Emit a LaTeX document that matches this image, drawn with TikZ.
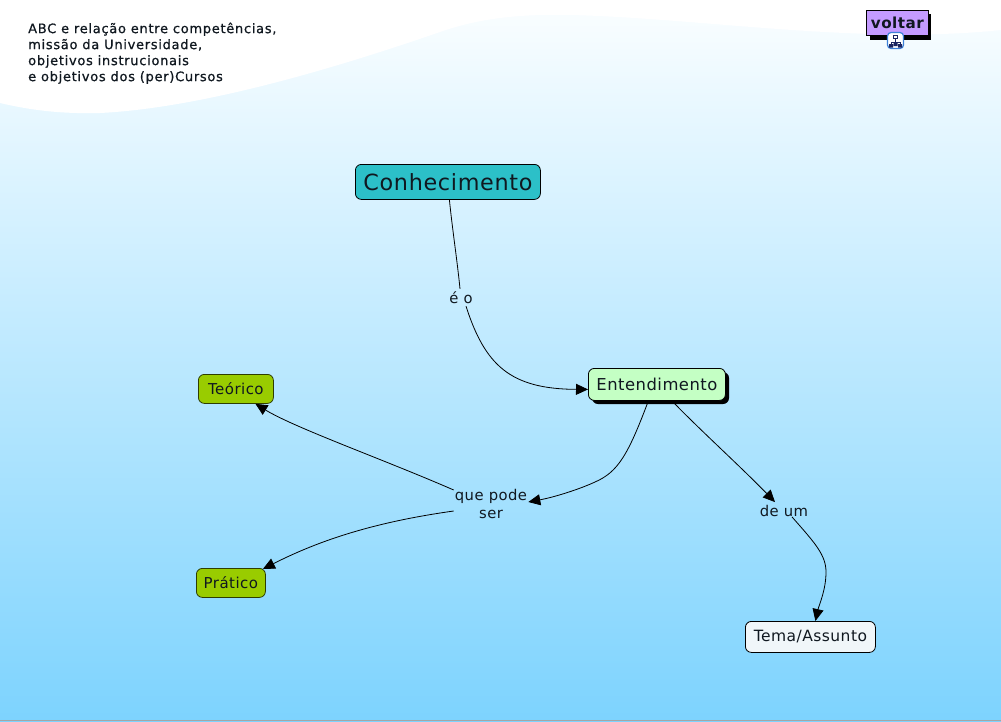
\documentclass[tikz,border=0pt]{standalone}
\usepackage{fontspec}
\setmainfont[LetterSpace=3]{DejaVu Sans}
\newfontfamily\titlefont[FakeBold=0.7,LetterSpace=5.5]{DejaVu Sans}
\usetikzlibrary{arrows.meta,calc}
\definecolor{bgtop}{HTML}{FBFEFF}
\definecolor{bgbot}{HTML}{7DD3FE}
\definecolor{tealc}{HTML}{2CC0C8}
\definecolor{mint}{HTML}{C4FFC4}
\definecolor{olive}{HTML}{99CC00}
\definecolor{pale}{HTML}{F0F6F9}
\definecolor{lilac}{HTML}{C49BFF}
\definecolor{inkc}{HTML}{101820}
\definecolor{iconblue}{HTML}{3C80D8}
\definecolor{iconnavy}{HTML}{1A2460}
\tikzset{
  x=1pt,y=-1pt,
  concept/.style={draw=black,line width=0.8pt,rounded corners=6pt,inner sep=0pt,text=inkc,anchor=north west},
  linkw/.style={text=inkc,font=\fontsize{14.8}{18}\selectfont,align=center,inner sep=1pt},
  conn/.style={draw=black,line width=0.8pt},
  arr/.style={conn,-{Triangle[length=12pt,width=11pt]}},
}
\begin{document}
\begin{tikzpicture}
\useasboundingbox (0,0) rectangle (1001,721);
\shade[top color=bgtop,bottom color=bgbot,shading angle=0] (0,0) rectangle (1001,721);
\fill[white] (0,0) -- (0,103) .. controls (30,110) and (60,114) .. (100,113)
  .. controls (200,108) and (330,70) .. (440,32)
  .. controls (480,18) and (520,14) .. (570,15)
  .. controls (700,18) and (860,45) .. (1001,30) -- (1001,0) -- cycle;
\fill[black!35] (0,720) rectangle (1001,721);

\node[anchor=north west,inner sep=0pt,align=left,text=inkc,font=\titlefont\fontsize{13}{16}\selectfont] (title) at (28,22.5)
  {ABC e relação entre competências,\\missão da Universidade,\\objetivos instrucionais\\e objetivos dos (per)Cursos};

\fill[black] (870,14) rectangle (931,40);
\node[concept,rounded corners=0pt,fill=lilac,minimum width=62pt,minimum height=25pt,font=\bfseries\fontsize{15.2}{18}\selectfont] (voltar) at (866,10) {voltar};
\node[draw=iconblue,fill=white,line width=1.2pt,rounded corners=3.5pt,minimum width=16pt,minimum height=16pt,inner sep=0pt,anchor=center] (icon) at (895.5,40.5) {};
\draw[iconnavy,line width=0.8pt] (893.5,35.5) rectangle (897.5,38.5) (895.5,38.5) -- (895.5,42) (891,44) -- (891,42) -- (900,42) -- (900,44);
\fill[iconnavy] (889,44) rectangle (893,47.5) (898,44) rectangle (902,47.5) (893.5,42.5) rectangle (897.5,46);

\node[concept,fill=tealc,minimum width=185pt,minimum height=35pt,font=\fontsize{22.3}{28}\selectfont] (conh) at (355,164) {Conhecimento};

\fill[black,rounded corners=6pt] (592,372) rectangle (729,404);
\node[concept,fill=mint,minimum width=137pt,minimum height=32pt,font=\fontsize{16.4}{20}\selectfont] (ent) at (588,368) {Entendimento};

\node[concept,fill=olive,minimum width=75pt,minimum height=29pt,draw=black!70!olive,font=\fontsize{15}{18}\selectfont] (teo) at (198,374) {Teórico};
\node[concept,fill=olive,minimum width=69pt,minimum height=29pt,draw=black!70!olive,font=\fontsize{15}{18}\selectfont] (pra) at (196,568) {Prático};
\node[concept,fill=pale,minimum width=130pt,minimum height=31pt,font=\fontsize{15.5}{18}\selectfont] (tema) at (745,621) {Tema/Assunto};

\node[linkw] (eo) at (461,298) {é o};
\node[linkw] (qps) at (491,504) {que pode\\ser};
\node[linkw] (deum) at (784,511) {de um};

\draw[conn] ([xshift=1.5pt]conh.south) .. controls +(3,30) and +(-3,-30) .. ([xshift=-1pt,yshift=2pt]eo.north);
\draw[arr] ([xshift=5pt,yshift=-1pt]eo.south) .. controls (485,365) and (510,389) .. ([yshift=-5pt]ent.west);
\draw[arr] ([xshift=-8.5pt]ent.south) .. controls (628,455) and (618,472) .. (595,482) .. controls (580,489) and (555,497) .. ([yshift=2pt]qps.east);
\draw[arr] ([yshift=14pt]qps.west) .. controls (385,460) and (295,428) .. ([xshift=19.5pt]teo.south);
\draw[arr] ([yshift=-7pt]qps.west) .. controls (375,522) and (320,540) .. ([xshift=32pt,yshift=-1pt]pra.north);
\draw[arr] ([xshift=15pt]ent.south) .. controls (700,430) and (740,466) .. ([xshift=-9pt,yshift=2pt]deum.north);
\draw[arr] ([xshift=8pt,yshift=1pt]deum.south) .. controls (815,543) and (826,555) .. (826,572) .. controls (826,590) and (819,605) .. ([xshift=5pt]tema.north);
\end{tikzpicture}
\end{document}
